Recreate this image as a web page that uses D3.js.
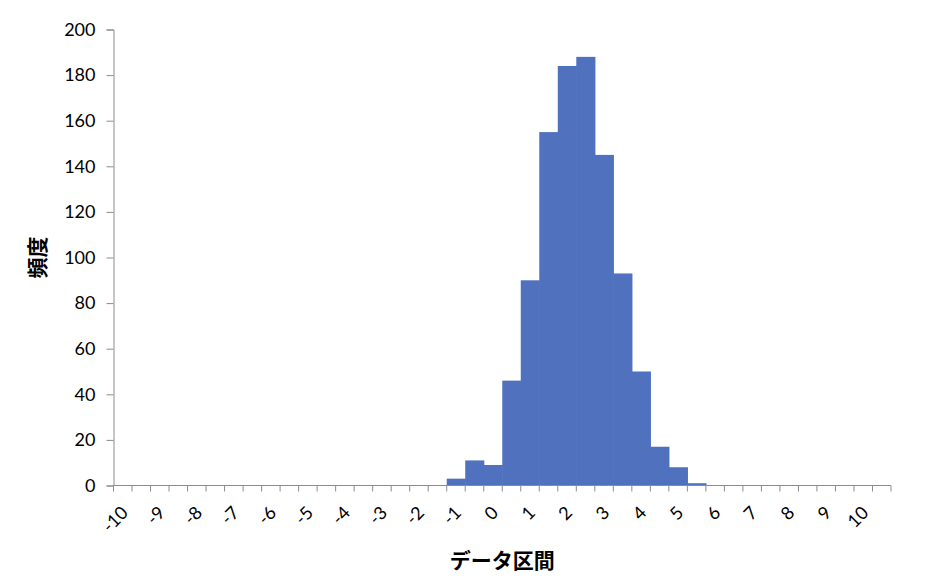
<!DOCTYPE html>
<html>
<head>
<meta charset="utf-8">
<script src="https://cdn.jsdelivr.net/npm/d3@7"></script>
<style>
  body { margin: 0; background: #fff; }
  text { font-family: Lato, "Open Sans", sans-serif; fill: #000; }
  .title { font-family: "Noto Sans CJK JP", sans-serif; font-weight: bold; }
</style>
</head>
<body>
<div id="chart"></div>
<script>
// bins -10 .. 10 step 0.5, then the "next" bin
var binLabels = ["-10","-9.5","-9","-8.5","-8","-7.5","-7","-6.5","-6","-5.5","-5","-4.5","-4","-3.5","-3","-2.5","-2","-1.5","-1","-0.5",
  "0","0.5","1","1.5","2","2.5","3","3.5","4","4.5","5","5.5","6","6.5","7","7.5","8","8.5","9","9.5","10","次の級"];
var counts = [0,0,0,0,0,0,0,0,0,0,0,0,0,0,0,0,0,0,3,11,
  9,46,90,155,184,188,145,93,50,17,8,1,0,0,0,0,0,0,0,0,0,0];
var yTicks = [0,20,40,60,80,100,120,140,160,180,200];

var W = 926, H = 584;
var m = {left: 113.5, right: 35, top: 29.5, bottom: 98.5};

var svg = d3.select("#chart").append("svg")
  .attr("width", W).attr("height", H);

var x = d3.scaleBand()
  .domain(binLabels)
  .range([m.left, W - m.right])
  .padding(0);

var y = d3.scaleLinear()
  .domain([0, 200])
  .range([H - m.bottom, m.top]);

// bars (slightly widened so neighbours don't show seams)
svg.append("g").selectAll("rect")
  .data(counts)
  .enter()
  .append("rect")
  .attr("x", function(d, i) { return x(binLabels[i]); })
  .attr("y", function(d) { return y(d); })
  .attr("width", x.bandwidth() + 0.6)
  .attr("height", function(d) { return y(0) - y(d); })
  .attr("fill", "#4f71be");

// y axis
var yAxis = svg.append("g")
  .attr("transform", "translate(" + m.left + ",0)")
  .call(d3.axisLeft(y).tickValues(yTicks).tickSize(7).tickPadding(11));
yAxis.selectAll("line, path").attr("stroke", "#8c8c8c");
yAxis.selectAll("text").attr("font-size", 18).attr("font-family", "Lato, sans-serif");

// x axis: ticks between categories
var xg = svg.append("g").attr("transform", "translate(0," + y(0) + ")");
xg.append("line")
  .attr("x1", m.left).attr("x2", W - m.right)
  .attr("stroke", "#8c8c8c");
var edges = binLabels.map(function(d) { return x(d); }).concat([x(binLabels[binLabels.length - 1]) + x.bandwidth()]);
xg.selectAll("line.tk").data(edges).enter().append("line")
  .attr("class", "tk")
  .attr("x1", function(d) { return d; }).attr("x2", function(d) { return d; })
  .attr("y1", 0).attr("y2", 6)
  .attr("stroke", "#8c8c8c");

xg.selectAll("text.lbl")
  .data(binLabels.filter(function(d, i) { return i % 2 === 0; }))
  .enter().append("text")
  .attr("class", "lbl")
  .attr("font-size", 18)
  .attr("text-anchor", "end")
  .attr("dy", "0.35em")
  .attr("transform", function(d) {
    var cx = x(d) + x.bandwidth() / 2 + 2;
    return "translate(" + cx + ",24) rotate(-45)";
  })
  .text(function(d) { return d; });

// titles
svg.append("text")
  .attr("class", "title")
  .attr("font-size", 21)
  .attr("text-anchor", "middle")
  .attr("transform", "translate(45," + (m.top + (y(0) - m.top) / 2) + ") rotate(-90)")
  .text("頻度");

svg.append("text")
  .attr("class", "title")
  .attr("font-size", 21)
  .attr("text-anchor", "middle")
  .attr("x", (m.left + W - m.right) / 2)
  .attr("y", 568)
  .text("データ区間");
</script>
</body>
</html>
